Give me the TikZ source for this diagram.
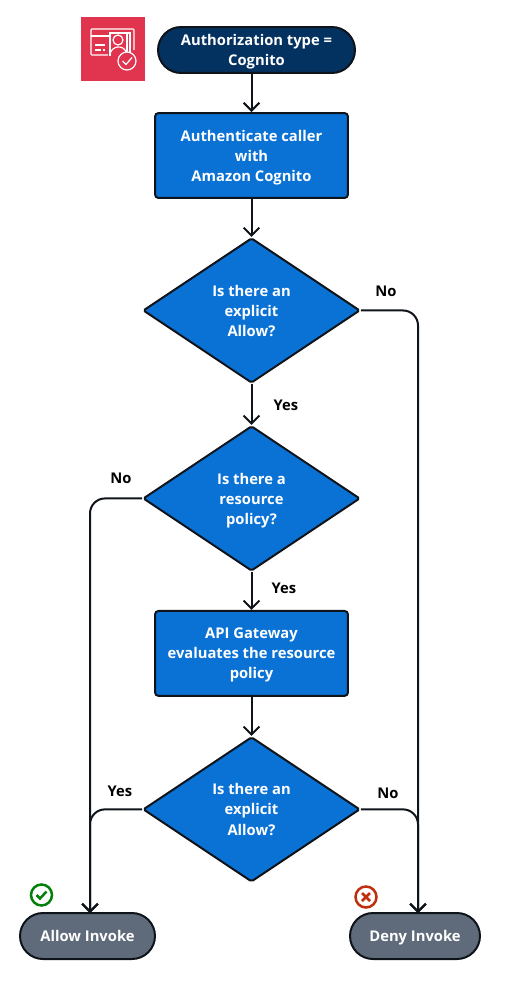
\documentclass[tikz,border=0pt]{standalone}
\usepackage{fontspec}
\setmainfont{Open Sans}
\definecolor{awsNavy}{RGB}{3, 49, 96}
\definecolor{awsBlue}{RGB}{11, 114, 213}
\definecolor{awsGray}{RGB}{95, 107, 122}
\definecolor{awsInk}{RGB}{15, 20, 26}
\definecolor{awsRose}{RGB}{224, 52, 79}
\definecolor{okGreen}{RGB}{3, 127, 12}
\definecolor{noRed}{RGB}{191, 47, 11}
\usetikzlibrary{positioning, calc, shapes.geometric, arrows.meta}

\begin{document}
\begin{tikzpicture}[
    x=0.02cm, y=-0.02cm,
    label text/.style={text=white, align=center, inner sep=0pt,
                       font=\fontsize{8.4}{11.4}\selectfont\bfseries, text depth=#1},
    pill/.style={rectangle, draw=awsInk, line width=0.04cm, label text=0pt,
                 minimum height=0.92cm, rounded corners=0.46cm},
    process/.style={rectangle, draw=awsInk, fill=awsBlue, line width=0.04cm, label text=-2.2pt,
                    minimum width=3.86cm, minimum height=1.7cm, rounded corners=2pt},
    decision/.style={diamond, draw=awsInk, fill=awsBlue, line width=0.04cm, label text=-2.2pt,
                     minimum width=4.34cm, minimum height=2.9cm, aspect=1.5, rounded corners=1pt},
    flow/.style={-{Straight Barb[length=4.5pt, width=9pt]}, line width=0.04cm, awsInk},
    railflow/.style={flow, rounded corners=0.3cm},
    answer/.style={font=\fontsize{8.4}{11}\selectfont\bfseries, text=black, inner sep=0pt},
    iconline/.style={draw=white, line width=0.024cm},
  ]
    \useasboundingbox (0,0) rectangle (507,1004);

    % Icon
    \node[rectangle, fill=awsRose, minimum size=1.28cm, inner sep=0pt] (ICON) at (113,49) {};
    \draw[iconline, rounded corners=0.5pt] (108,55) -- (91,55) -- (91,29) -- (134,29) -- (134,50);
    \draw[iconline] (91,36) -- (110,36);
    \draw[iconline] (95,45) -- (105,45) (95,50) -- (101,50) (103,50) -- (105,50);
    \draw[iconline, fill=awsRose] (110,56) -- (110,33) -- (130,33) -- (130,52);
    \draw[iconline] (110,33) -- (127,33) -- (127,52);
    \draw[iconline] (118,40) circle (5);
    \draw[iconline] (110,54) .. controls (112,45) and (124,45) .. (126,52);
    \draw[iconline, fill=awsRose] (127,61) circle (9);
    \draw[iconline] (122.5,61) -- (126,64.5) -- (132,57.5);

    % Main column
    \node[pill, fill=awsNavy, minimum width=3.94cm] (START) at (256.5,50) {Authorization type =\\Cognito};
    \node[process] (AUTH) at (251.5,155.5) {Authenticate caller\\with\\Amazon Cognito};
    \node[decision, below=0.76cm of AUTH] (D1) {Is there an\\explicit\\Allow?};
    \node[decision, below=0.82cm of D1] (D2) {Is there a\\resource\\policy?};
    \node[process, below=0.76cm of D2] (EVAL) {API Gateway\\evaluates the resource\\policy};
    \node[decision, below=0.78cm of EVAL] (D3) {Is there an\\explicit\\Allow?};

    % Results
    \node[pill, fill=awsGray, minimum width=2.7cm] (ALLOW) at (87.5,936) {Allow Invoke};
    \node[pill, fill=awsGray, minimum width=2.6cm] (DENY) at (415,936) {Deny Invoke};
    \coordinate (allowIn) at (90,913);
    \coordinate (denyIn) at (418,913);

    % Status marks
    \node[circle, draw=okGreen, line width=0.05cm, minimum size=0.42cm, inner sep=0pt] (OK) at (41.5,895) {};
    \draw[okGreen, line width=0.05cm] ($(OK)+(-5,0)$) -- ($(OK)+(-1.5,3.5)$) -- ($(OK)+(5,-3.5)$);
    \node[circle, draw=noRed, line width=0.05cm, minimum size=0.42cm, inner sep=0pt] (NO) at (366,897) {};
    \draw[noRed, line width=0.05cm] ($(NO)+(-4,-4)$) -- ($(NO)+(4,4)$) ($(NO)+(-4,4)$) -- ($(NO)+(4,-4)$);

    % Connectors
    \draw[flow] (AUTH.north |- START.south) -- (AUTH.north);
    \draw[flow] (AUTH) -- (D1);
    \draw[flow] (D1) -- (D2);
    \draw[flow] (D2) -- (EVAL);
    \draw[flow] (EVAL) -- (D3);
    \draw[railflow] (D1.east) -| (denyIn);
    \draw[railflow] (D2.west) -| (allowIn);
    \draw[railflow] (D3.west) -| (allowIn);
    \draw[railflow] (D3.east) -| (denyIn);

    % Answers
    \foreach \x/\y/\txt/\name in {386/291/No/A1, 286/405/Yes/A2, 121/478/No/A3, 284/588/Yes/A4, 120/791/Yes/A5, 388/793/No/A6} {
      \node[answer] (\name) at (\x,\y) {\txt};
    }
\end{tikzpicture}
\end{document}
